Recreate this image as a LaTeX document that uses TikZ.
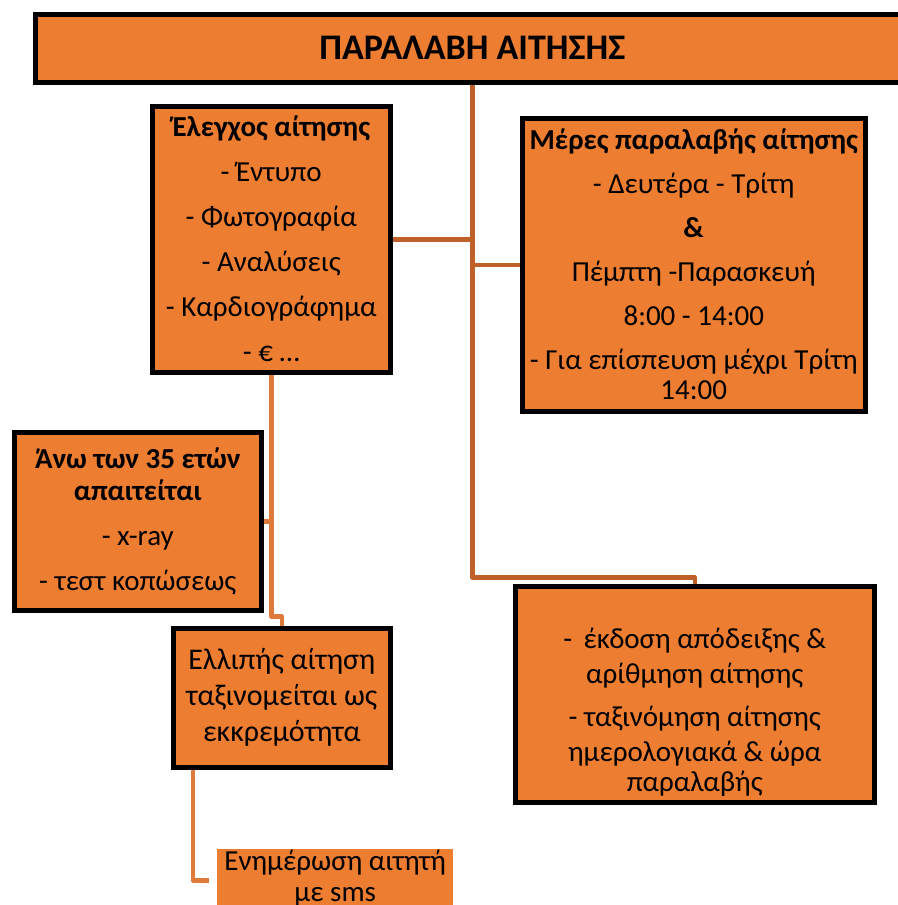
\documentclass[tikz,border=0pt]{standalone}
\usepackage{fontspec}
\setmainfont{Carlito}
\definecolor{boxorange}{RGB}{237,125,49}
\definecolor{darkline}{RGB}{190,96,40}
\definecolor{lightline}{RGB}{222,122,58}
\tikzset{
  box/.style={draw=black, line width=4.5pt, fill=boxorange, inner sep=0pt,
    align=center, anchor=north west, font=\fontsize{29}{44}\selectfont},
  conn/.style={draw=darkline, line width=4.5pt, line join=round},
  subconn/.style={conn, draw=lightline}
}
\begin{document}
\begin{tikzpicture}[x=1pt, y=-1pt]
    \useasboundingbox (0,0) rectangle (897,905);

    % boxes
    \node[box, minimum width=874pt, minimum height=68pt, font=\fontsize{36}{40}\selectfont\bfseries]
        (title) at (33,12) {ΠΑΡΑΛΑΒΗ ΑΙΤΗΣΗΣ};
    \node[box, minimum width=238pt, minimum height=266pt, font=\fontsize{29}{45}\selectfont] (check) at (150,104)
        {\textbf{Έλεγχος αίτησης}\\- Έντυπο\\- Φωτογραφία\\- Αναλύσεις\\- Καρδιογράφημα\\- € \dots};
    \node[box, minimum width=343pt, minimum height=293pt] (days) at (520,116)
        {\textbf{Μέρες παραλαβής αίτησης}\\- Δευτέρα - Τρίτη\\\textbf{\&}\\Πέμπτη -Παρασκευή\\8:00 - 14:00\\- Για επίσπευση μέχρι Τρίτη\\[-14pt]14:00};
    \node[box, minimum width=247pt, minimum height=178pt, font=\fontsize{29}{45}\selectfont] (age) at (12,430)
        {\textbf{Άνω των 35 ετών}\\[-13pt]\textbf{απαιτείται}\\- x-ray\\- τεστ κοπώσεως};
    \node[box, minimum width=217pt, minimum height=139pt, font=\fontsize{30}{36}\selectfont] (miss) at (171,626)
        {Ελλιπής αίτηση\\ταξινομείται ως\\εκκρεμότητα};
    \node[box, draw=none, minimum width=236pt, minimum height=58pt, font=\fontsize{29}{31}\selectfont] (sms) at (215,847)
        {Ενημέρωση αιτητή\\με sms};
    \node[box, minimum width=359pt, minimum height=216pt] (ack) at (513,584) {};
    \node[align=center, font=\fontsize{29}{35}\selectfont] (acktext) at ([yshift=-18pt]ack.center)
        {- \,έκδοση απόδειξης \&\\αρίθμηση αίτησης\\[8pt]- ταξινόμηση αίτησης\\ημερολογιακά \& ώρα\\[-5pt]παραλαβής};

    % connectors
    \draw[conn] (title.south) -- ++(0,493) -| (ack.north);
    \draw[conn] (check.east) -- (check.east -| title.south);
    \draw[conn] (days.west) -- (days.west -| title.south);
    \draw[subconn] (check.south) -- ++(0,242) -| (miss.north);
    \draw[subconn] (age.east) -- (age.east -| check.south);
    \draw[subconn] ([xshift=22pt]miss.south west) |- ([xshift=-6pt,yshift=-2pt]sms.west);
\end{tikzpicture}
\end{document}
